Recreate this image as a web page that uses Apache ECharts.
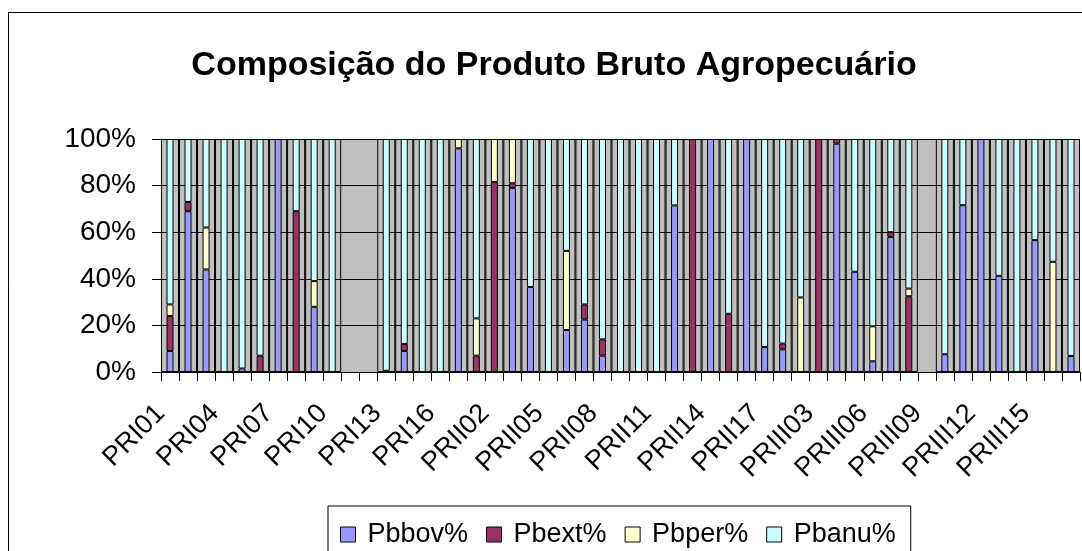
<!DOCTYPE html>
<html>
	<head>
		<meta charset="UTF-8">
		<title>Composição do Produto Bruto Agropecuário</title>
		<style type="text/css">
			body{
				margin: 0;
				background: #fff;
			}
			#main{
				width: 1082px;
				height: 551px;
			}
		</style>
	</head>

	<body>
		<div id="main"></div>
		<script src="https://cdn.jsdelivr.net/npm/echarts@6/dist/echarts.min.js"></script>
		<script type="text/javascript">
			var categories = ['PRI01','PRI02','PRI03','PRI04','PRI05','PRI06','PRI07','PRI08','PRI09','PRI10',
				'PRI11','PRI12','PRI13','PRI14','PRI15','PRI16','PRI17',
				'PRII01','PRII02','PRII03','PRII04','PRII05','PRII06','PRII07','PRII08','PRII09','PRII10',
				'PRII11','PRII12','PRII13','PRII14','PRII15','PRII16','PRII17',
				'PRIII01','PRIII02','PRIII03','PRIII04','PRIII05','PRIII06','PRIII07','PRIII08','PRIII09','PRIII10',
				'PRIII11','PRIII12','PRIII13','PRIII14','PRIII15','PRIII16','PRIII17'];
			// valores em %
			var pbbov = [9,69,44,0,1.5,0,100,0,28,0, 0,0,0.5,9,0,0,96,0,0,79, 36.5,0,18,22.5,7,0,0,0,71.5,0,
				100,0,100,10.7,9.7,0,0,98,43,4.6, 58,0,0,7.6,71.6,100,41.3,0,56.6,0, 6.9];
			var pbext = [15,4,0,0,0,7,0,69,0,0, 0,0,0,3,0,0,0,7,81.5,2, 0,0,0,6.5,7,0,0,0,0,100,
				0,25,0,0,2.5,0,100,2,0,0, 2,32.5,0,0,0,0,0,0,0,0, 0];
			var pbper = [5,0,18,0,0,0,0,0,11,0, 0,0,0,0,0,0,4,16,18.5,19, 0,0,34,0,0,0,0,0,0,0,
				0,0,0,0,0,32,0,0,0,15, 0,3.3,0,0,0,0,0,0,0,47.3, 0];
			var pbanu = [71,27,38,100,98.5,93,0,31,61,100, 0,0,99.5,88,100,100,0,77,0,0, 63.5,100,48,71,86,100,100,100,28.5,0,
				0,75,0,89.3,87.8,68,0,0,57,80.4, 40,64.2,0,92.4,28.4,0,58.7,100,43.4,52.7, 93.1];
			var seriesNames = ['Pbbov%','Pbext%','Pbper%','Pbanu%'];
			var colors = ['#9999FF','#993366','#FFFFCC','#CCFFFF'];
			var yTicks = [0,20,40,60,80,100];

			// zero -> sem barra
			function clean(arr){
				return arr.map(function(v){ return v > 0 ? v : '-'; });
			}
			// moldura de cada categoria com dados
			var boxes = categories.map(function(c, i){
				return (pbbov[i] + pbext[i] + pbper[i] + pbanu[i]) > 0 ? 100 : '-';
			});

			var font = 'Liberation Sans, Arial, sans-serif';
			var myChart = echarts.init(document.getElementById('main'));
			var dataList = [pbbov, pbext, pbper, pbanu];
			var series = [];
			for (var i = 0; i < 4; i++) {
				series.push({
					name: seriesNames[i],
					type: 'bar',
					stack: 'total',
					barWidth: 7,
					z: 3,
					itemStyle: { color: colors[i], borderColor: '#000', borderWidth: 1 },
					data: clean(dataList[i])
				});
			}
			series.push({
				name: 'box',
				type: 'bar',
				xAxisIndex: 1,
				yAxisIndex: 1,
				barWidth: '100%',
				silent: true,
				z: 1,
				itemStyle: { color: 'transparent', borderColor: '#000', borderWidth: 1 },
				data: boxes
			});

			var option = {
				animation: false,
				textStyle: { fontFamily: font },
				title: {
					text: 'Composição do Produto Bruto Agropecuário',
					left: 549,
					textAlign: 'center',
					top: 44,
					textStyle: { fontFamily: font, fontSize: 34, fontWeight: 'bold', color: '#000' }
				},
				graphic: [{
					type: 'rect',
					shape: { x: 8.5, y: 12.5, width: 1200, height: 700 },
					style: { fill: 'none', stroke: '#000', lineWidth: 1 },
					z: -10
				}],
				legend: {
					data: seriesNames,
					left: 328,
					top: 506,
					padding: [15, 15, 30, 12],
					itemWidth: 15,
					itemHeight: 15,
					itemGap: 18,
					borderColor: '#000',
					borderWidth: 1,
					icon: 'rect',
					itemStyle: { borderColor: '#000', borderWidth: 1 },
					textStyle: { fontFamily: font, fontSize: 27, color: '#000', padding: [0, 0, 0, 7] }
				},
				grid: {
					left: 161,
					right: 2,
					top: 139,
					bottom: 179,
					show: true,
					backgroundColor: '#C0C0C0',
					borderWidth: 0
				},
				xAxis: [{
					type: 'category',
					data: categories,
					axisLine: { lineStyle: { color: '#000', width: 1 } },
					axisTick: { show: true, interval: 0, length: 9, lineStyle: { color: '#000' } },
					axisLabel: {
						interval: 2,
						rotate: 45,
						margin: 28,
						padding: [0, 13, 0, 0],
						fontFamily: font,
						fontSize: 27,
						color: '#000'
					},
					splitLine: { show: false }
				}, {
					type: 'category',
					data: categories,
					show: false
				}],
				yAxis: [{
					type: 'value',
					min: yTicks[0],
					max: yTicks[yTicks.length - 1],
					interval: 20,
					axisLine: { show: true, lineStyle: { color: '#000', width: 1 } },
					axisTick: { show: true, length: 9, lineStyle: { color: '#000' } },
					axisLabel: {
						margin: 25,
						formatter: '{value}%',
						fontFamily: font,
						fontSize: 28,
						color: '#000'
					},
					splitLine: { show: true, lineStyle: { color: '#000', width: 1 } }
				}, {
					type: 'value',
					min: 0,
					max: 100,
					show: false
				}],
				series: series
			};
			myChart.setOption(option);
		</script>
	</body>

</html>
